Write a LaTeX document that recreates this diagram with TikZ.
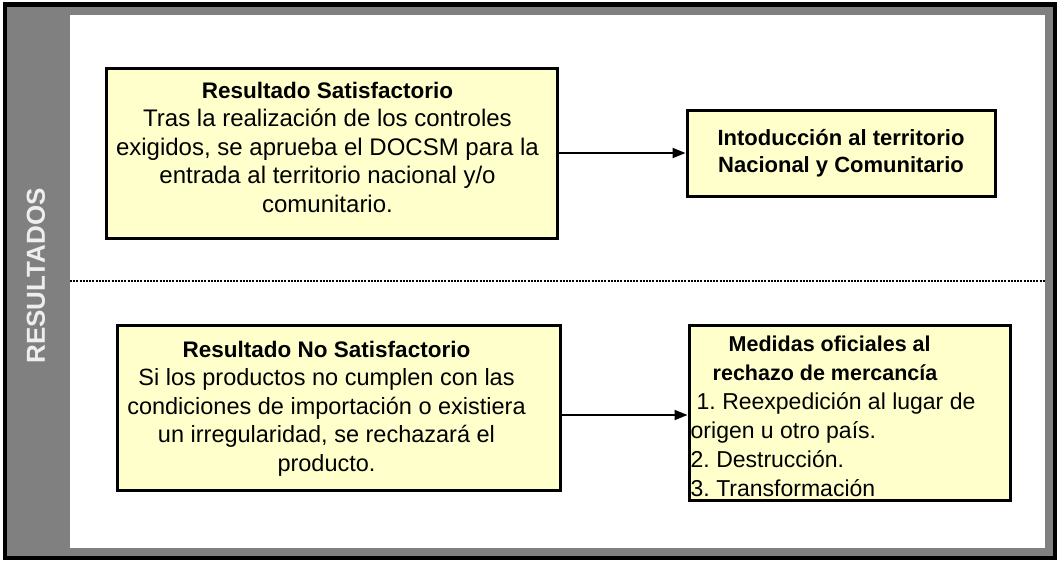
\documentclass[tikz,border=0pt]{standalone}
\usepackage{fontspec}
\setmainfont{Liberation Sans}
\usetikzlibrary{arrows.meta,calc}
\definecolor{boxfill}{HTML}{FFFFCC}
\definecolor{framegray}{HTML}{808080}
\definecolor{labelgray}{HTML}{EEEEEE}
\tikzset{
  x=1pt,y=-1pt,
  resbox/.style={draw=black,line width=3pt,fill=boxfill,rectangle,inner sep=0pt},
  boxtext/.style={inner sep=0pt,align=center,font=\fontsize{23.5}{28.5}\selectfont},
  conn/.style={line width=2pt,-{Triangle[length=13pt,width=10pt]}},
}
\newcommand{\ttl}[1]{{\fontsize{22.5}{28.5}\bfseries #1}}
\newcommand{\ttlb}[1]{{\fontsize{21.5}{29}\bfseries #1}}
\begin{document}
\frenchspacing
\begin{tikzpicture}
\useasboundingbox (0,0) rectangle (1057,563);
% outer frame
\draw[line width=4.5pt,fill=framegray] (5,4.5) rectangle (1055,558);
\fill[white] (70,15) rectangle (1045,548);
\coordinate (dl) at (70,281);
\coordinate (dr) at (1045,281);
\draw[line width=2.5pt,dash pattern=on 2pt off 1.2pt] (dl) -- (dr);
\node[rotate=90,text=labelgray,font=\fontsize{26}{30}\bfseries] (lab) at (36,276) {RESULTADOS};
% boxes
\node[resbox,minimum width=451pt,minimum height=170pt] (b1) at (331.5,153) {};
\node[resbox,minimum width=308pt,minimum height=86pt] (b2) at (841,153) {};
\node[resbox,minimum width=443pt,minimum height=165pt] (b3) at (338.5,407.5) {};
\node[resbox,minimum width=321pt,minimum height=175pt] (b4) at (849.5,412.5) {};
% texts
\node[boxtext,anchor=north,font=\fontsize{24}{28.5}\selectfont] (t1) at ($(b1.north)+(-4,15)$) {\ttl{Resultado Satisfactorio}\\Tras la realización de los controles\\exigidos, se aprueba el DOCSM para la\\entrada al territorio nacional y/o\\comunitario.};
\node[boxtext,font=\fontsize{22}{27}\bfseries] (t2) at (b2.center) {Intoducción al territorio\\Nacional y Comunitario};
\node[boxtext,anchor=north] (t3) at ($(b3.north)+(-12,17)$) {\ttl{Resultado No Satisfactorio}\\Si los productos no cumplen con las\\condiciones de importación o existiera\\un irregularidad, se rechazará el\\producto.};
\node[boxtext,align=left,anchor=north west,font=\fontsize{23}{29}\selectfont] (t4) at ($(b4.north west)+(3,12)$) {\hspace*{38pt}\ttlb{Medidas oficiales al}\\\hspace*{22pt}\ttlb{rechazo de mercancía}\\\hspace*{6pt}1. Reexpedición al lugar de\\origen u otro país.\\2. Destrucción.\\3. Transformación};
% connectors
\draw[conn] (b1.east) -- (b2.west);
\draw[conn] ([yshift=-2.5pt]b3.east |- b4.west) -- ([yshift=-2.5pt]b4.west);
\end{tikzpicture}
\end{document}
